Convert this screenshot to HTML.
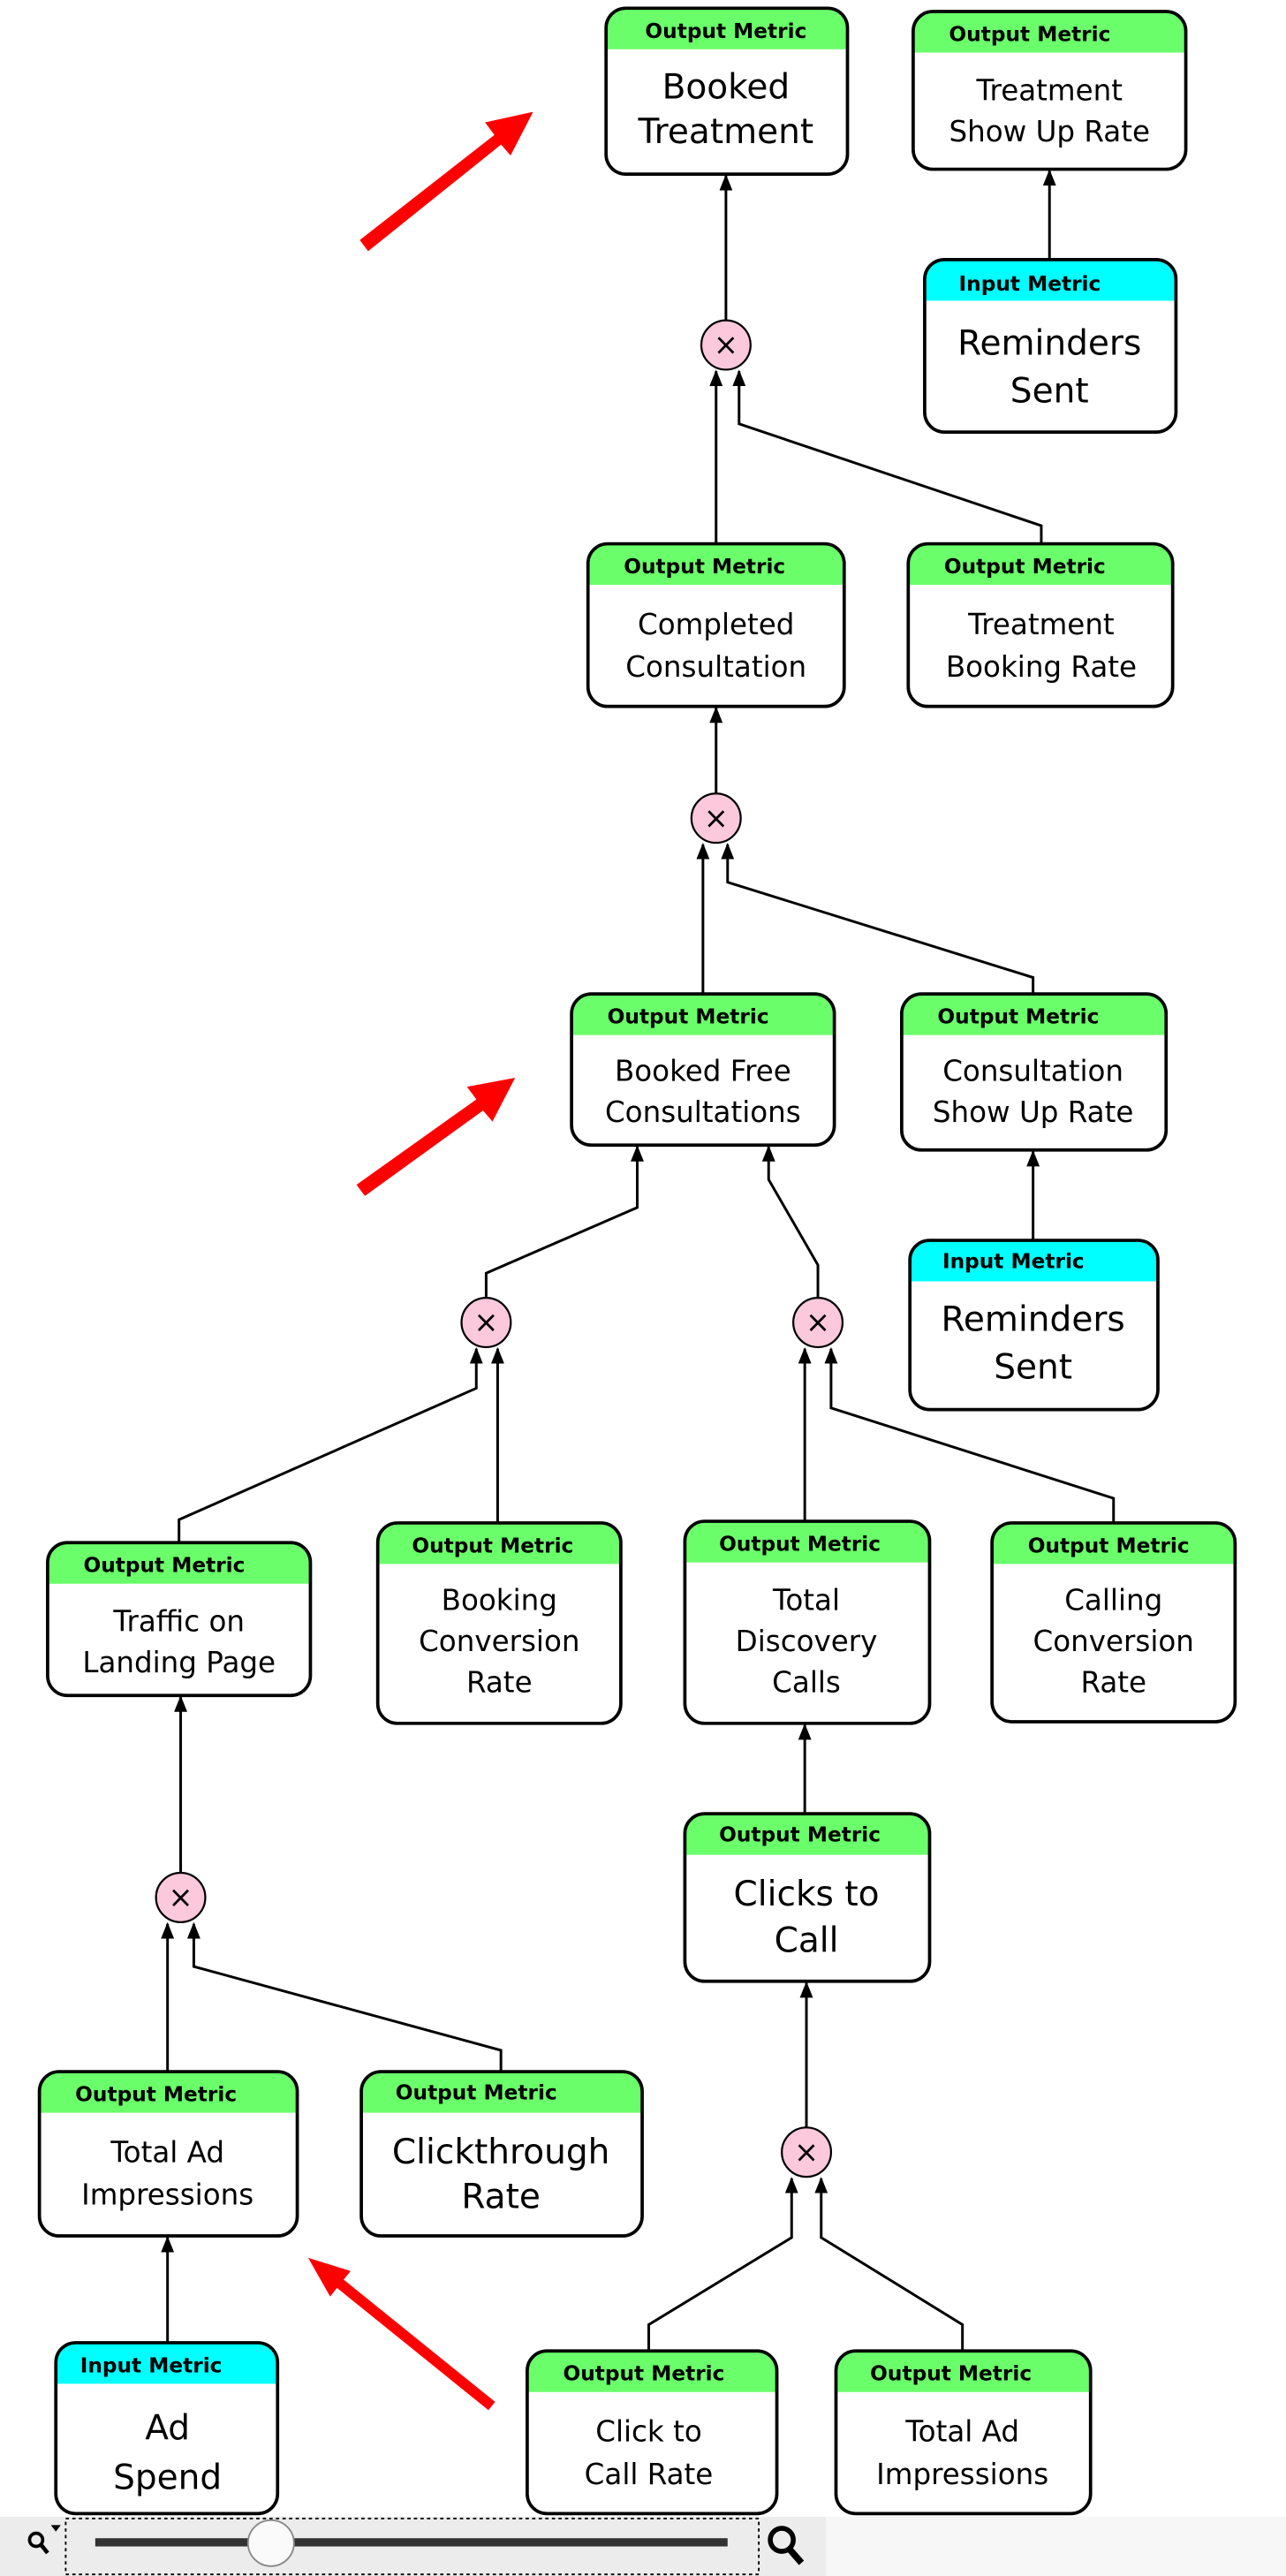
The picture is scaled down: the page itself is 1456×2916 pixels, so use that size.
<!DOCTYPE html>
<html><head><meta charset="utf-8"><style>
html,body{margin:0;padding:0;background:#fff;}
svg{display:block;}
text{font-family:"DejaVu Sans","Liberation Sans",sans-serif;text-anchor:middle;fill:#000;}
.h{font-size:12.5px;font-weight:bold;}
.b{font-size:17.5px;}
.B{font-size:21px;}
</style></head><body>
<svg width="1456" height="2916" viewBox="0 0 783 1568" preserveAspectRatio="none" xmlns="http://www.w3.org/2000/svg">
<defs>
<marker id="a" markerWidth="10" markerHeight="10" refX="9" refY="4" orient="auto" markerUnits="userSpaceOnUse">
<path d="M0,0 L10,4 L0,8 z" fill="#000"/>
</marker>
</defs>
<g fill="none" stroke="#000" stroke-width="1.6" marker-end="url(#a)">
<path d="M442,195 V107"/>
<path d="M639,158 V104"/>
<path d="M436,331 V226"/>
<path d="M634,331 V320 L450,258 V226"/>
<path d="M436,483 V431"/>
<path d="M428,605 V514"/>
<path d="M629,605 V595 L443,537 V514"/>
<path d="M629,755 V701"/>
<path d="M296,790 V775 L388,735 V698"/>
<path d="M498,790 V770 L468,718 V698"/>
<path d="M109,939 V925 L290,845 V821"/>
<path d="M303,927 V821"/>
<path d="M490,926 V821"/>
<path d="M678,927 V912 L506,857 V821"/>
<path d="M490,1104 V1050"/>
<path d="M110,1140 V1033"/>
<path d="M102,1261 V1171"/>
<path d="M305,1261 V1248 L118,1197 V1171"/>
<path d="M491,1295 V1207"/>
<path d="M395,1431 V1415 L482,1362 V1326"/>
<path d="M586,1431 V1415 L500,1362 V1326"/>
<path d="M102,1426 V1362"/>
</g>
<g stroke="#000" stroke-width="1.2" fill="#fbc8dc">
<circle cx="442" cy="210" r="15"/><circle cx="436" cy="498" r="15"/>
<circle cx="296" cy="805" r="15"/><circle cx="498" cy="805" r="15"/>
<circle cx="110" cy="1155" r="15"/><circle cx="491" cy="1310" r="15"/>
</g>
<g font-size="18" font-family="DejaVu Sans" text-anchor="middle">
<text x="442" y="216">×</text><text x="436" y="504">×</text><text x="296" y="811">×</text>
<text x="498" y="811">×</text><text x="110" y="1161">×</text><text x="491" y="1316">×</text>
</g>
<g>
<path d="M369,30 V17 a12,12 0 0 1 12,-12 H504 a12,12 0 0 1 12,12 V30 z" fill="#6aff6a"/>
<rect x="369" y="5" width="147" height="101" rx="12" fill="none" stroke="#000" stroke-width="2"/>
<text class="h" x="442" y="23">Output Metric</text>
<text class="B" x="442" y="60">Booked</text><text class="B" x="442" y="87">Treatment</text>

<path d="M556,32 V19 a12,12 0 0 1 12,-12 H710 a12,12 0 0 1 12,12 V32 z" fill="#6aff6a"/>
<rect x="556" y="7" width="166" height="96" rx="12" fill="none" stroke="#000" stroke-width="2"/>
<text class="h" x="627" y="25">Output Metric</text>
<text class="b" x="639" y="61">Treatment</text><text class="b" x="639" y="86">Show Up Rate</text>

<path d="M563,183 V170 a12,12 0 0 1 12,-12 H704 a12,12 0 0 1 12,12 V183 z" fill="#00ffff"/>
<rect x="563" y="158" width="153" height="105" rx="12" fill="none" stroke="#000" stroke-width="2"/>
<text class="h" x="627" y="177">Input Metric</text>
<text class="B" x="639" y="216">Reminders</text><text class="B" x="639" y="245">Sent</text>

<path d="M358,356 V343 a12,12 0 0 1 12,-12 H502 a12,12 0 0 1 12,12 V356 z" fill="#6aff6a"/>
<rect x="358" y="331" width="156" height="99" rx="12" fill="none" stroke="#000" stroke-width="2"/>
<text class="h" x="429" y="349">Output Metric</text>
<text class="b" x="436" y="386">Completed</text><text class="b" x="436" y="412">Consultation</text>

<path d="M553,356 V343 a12,12 0 0 1 12,-12 H702 a12,12 0 0 1 12,12 V356 z" fill="#6aff6a"/>
<rect x="553" y="331" width="161" height="99" rx="12" fill="none" stroke="#000" stroke-width="2"/>
<text class="h" x="624" y="349">Output Metric</text>
<text class="b" x="634" y="386">Treatment</text><text class="b" x="634" y="412">Booking Rate</text>

<path d="M348,630 V617 a12,12 0 0 1 12,-12 H496 a12,12 0 0 1 12,12 V630 z" fill="#6aff6a"/>
<rect x="348" y="605" width="160" height="92" rx="12" fill="none" stroke="#000" stroke-width="2"/>
<text class="h" x="419" y="623">Output Metric</text>
<text class="b" x="428" y="658">Booked Free</text><text class="b" x="428" y="683">Consultations</text>

<path d="M549,630 V617 a12,12 0 0 1 12,-12 H698 a12,12 0 0 1 12,12 V630 z" fill="#6aff6a"/>
<rect x="549" y="605" width="161" height="95" rx="12" fill="none" stroke="#000" stroke-width="2"/>
<text class="h" x="620" y="623">Output Metric</text>
<text class="b" x="629" y="658">Consultation</text><text class="b" x="629" y="683">Show Up Rate</text>

<path d="M554,780 V767 a12,12 0 0 1 12,-12 H693 a12,12 0 0 1 12,12 V780 z" fill="#00ffff"/>
<rect x="554" y="755" width="151" height="103" rx="12" fill="none" stroke="#000" stroke-width="2"/>
<text class="h" x="617" y="772">Input Metric</text>
<text class="B" x="629" y="810">Reminders</text><text class="B" x="629" y="839">Sent</text>

<path d="M29,964 V951 a12,12 0 0 1 12,-12 H177 a12,12 0 0 1 12,12 V964 z" fill="#6aff6a"/>
<rect x="29" y="939" width="160" height="93" rx="12" fill="none" stroke="#000" stroke-width="2"/>
<text class="h" x="100" y="957">Output Metric</text>
<text class="b" x="109" y="993">Traffic on</text><text class="b" x="109" y="1018">Landing Page</text>

<path d="M230,952 V939 a12,12 0 0 1 12,-12 H366 a12,12 0 0 1 12,12 V952 z" fill="#6aff6a"/>
<rect x="230" y="927" width="148" height="122" rx="12" fill="none" stroke="#000" stroke-width="2"/>
<text class="h" x="300" y="945">Output Metric</text>
<text class="b" x="304" y="980">Booking</text><text class="b" x="304" y="1005">Conversion</text><text class="b" x="304" y="1030">Rate</text>

<path d="M417,951 V938 a12,12 0 0 1 12,-12 H554 a12,12 0 0 1 12,12 V951 z" fill="#6aff6a"/>
<rect x="417" y="926" width="149" height="123" rx="12" fill="none" stroke="#000" stroke-width="2"/>
<text class="h" x="487" y="944">Output Metric</text>
<text class="b" x="491" y="980">Total</text><text class="b" x="491" y="1005">Discovery</text><text class="b" x="491" y="1030">Calls</text>

<path d="M604,952 V939 a12,12 0 0 1 12,-12 H740 a12,12 0 0 1 12,12 V952 z" fill="#6aff6a"/>
<rect x="604" y="927" width="148" height="121" rx="12" fill="none" stroke="#000" stroke-width="2"/>
<text class="h" x="675" y="945">Output Metric</text>
<text class="b" x="678" y="980">Calling</text><text class="b" x="678" y="1005">Conversion</text><text class="b" x="678" y="1030">Rate</text>

<path d="M417,1129 V1116 a12,12 0 0 1 12,-12 H554 a12,12 0 0 1 12,12 V1129 z" fill="#6aff6a"/>
<rect x="417" y="1104" width="149" height="102" rx="12" fill="none" stroke="#000" stroke-width="2"/>
<text class="h" x="487" y="1121">Output Metric</text>
<text class="B" x="491" y="1160">Clicks to</text><text class="B" x="491" y="1188">Call</text>

<path d="M24,1286 V1273 a12,12 0 0 1 12,-12 H169 a12,12 0 0 1 12,12 V1286 z" fill="#6aff6a"/>
<rect x="24" y="1261" width="157" height="100" rx="12" fill="none" stroke="#000" stroke-width="2"/>
<text class="h" x="95" y="1279">Output Metric</text>
<text class="b" x="102" y="1316">Total Ad</text><text class="b" x="102" y="1342">Impressions</text>

<path d="M220,1286 V1273 a12,12 0 0 1 12,-12 H379 a12,12 0 0 1 12,12 V1286 z" fill="#6aff6a"/>
<rect x="220" y="1261" width="171" height="100" rx="12" fill="none" stroke="#000" stroke-width="2"/>
<text class="h" x="290" y="1278">Output Metric</text>
<text class="B" x="305" y="1317">Clickthrough</text><text class="B" x="305" y="1344">Rate</text>

<path d="M34,1451 V1438 a12,12 0 0 1 12,-12 H157 a12,12 0 0 1 12,12 V1451 z" fill="#00ffff"/>
<rect x="34" y="1426" width="135" height="104" rx="12" fill="none" stroke="#000" stroke-width="2"/>
<text class="h" x="92" y="1444">Input Metric</text>
<text class="B" x="102" y="1485">Ad</text><text class="B" x="102" y="1515">Spend</text>

<path d="M321,1456 V1443 a12,12 0 0 1 12,-12 H461 a12,12 0 0 1 12,12 V1456 z" fill="#6aff6a"/>
<rect x="321" y="1431" width="152" height="99" rx="12" fill="none" stroke="#000" stroke-width="2"/>
<text class="h" x="392" y="1449">Output Metric</text>
<text class="b" x="395" y="1486">Click to</text><text class="b" x="395" y="1512">Call Rate</text>

<path d="M509,1456 V1443 a12,12 0 0 1 12,-12 H652 a12,12 0 0 1 12,12 V1456 z" fill="#6aff6a"/>
<rect x="509" y="1431" width="155" height="99" rx="12" fill="none" stroke="#000" stroke-width="2"/>
<text class="h" x="579" y="1449">Output Metric</text>
<text class="b" x="586" y="1486">Total Ad</text><text class="b" x="586" y="1512">Impressions</text>
</g>
<g fill="#ff0000" stroke="#fff" stroke-width="1.5">
<path d="M218,146 L300,82 L294,74 L326,67 L311,96 L305,89 L224,154 z"/>
<path d="M216,721 L289,669 L283,661 L315,655 L300,684 L294,677 L222,729 z"/>
<path d="M297.5,1468.1 L205.3,1393.7 L200.9,1399.2 L186,1373 L214.7,1382 L210.3,1387.5 L302.5,1461.9 z"/>
</g>
<rect x="0" y="1532" width="783" height="36" fill="#ececec"/>
<rect x="503" y="1532" width="280" height="36" fill="#f7f7f7"/>
<rect x="40" y="1533" width="422" height="34" fill="none" stroke="#000" stroke-dasharray="2,2"/>
<rect x="58" y="1545" width="385" height="5" fill="#333"/>
<ellipse cx="165" cy="1548" rx="14" ry="14" fill="#fafafa" stroke="#888"/>
<circle cx="22" cy="1546" r="4" fill="none" stroke="#000" stroke-width="2"/>
<path d="M25,1549 L29,1554" stroke="#000" stroke-width="2.5"/>
<path d="M31,1537 L37,1537 L34,1541 z" fill="#000"/>
<circle cx="476" cy="1546" r="7" fill="none" stroke="#000" stroke-width="3"/>
<path d="M481,1552 L488,1560" stroke="#000" stroke-width="4"/>
</svg>
</body></html>
